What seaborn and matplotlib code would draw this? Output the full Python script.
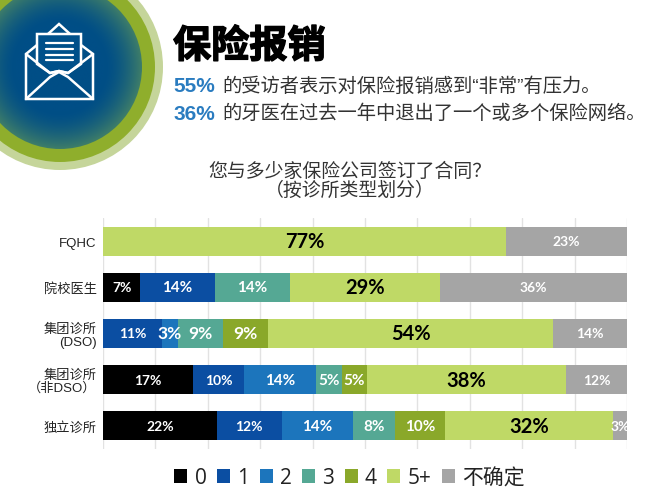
import matplotlib
matplotlib.use("Agg")
import matplotlib.pyplot as plt
import matplotlib.patheffects as pe
from matplotlib.patches import Circle, Polygon
import numpy as np
import pandas as pd
import seaborn as sns

categories = ["FQHC", "院校医生", "集团诊所\n(DSO)", "集团诊所\n（非DSO）", "独立诊所"]
series_names = ["0", "1", "2", "3", "4", "5+", "不确定"]
v_0 = [0, 7.1, 0, 17.2, 21.7]
v_1 = [0, 14.2, 11.3, 9.7, 12.4]
v_2 = [0, 0, 3.0, 13.8, 13.6]
v_3 = [0, 14.3, 8.6, 4.9, 8.0]
v_4 = [0, 0, 8.6, 4.7, 9.6]
v_5 = [76.9, 28.7, 54.4, 38.0, 32.1]
v_unsure = [23.1, 35.7, 14.2, 11.8, 2.8]
colors = ["#000000", "#0b4ea2", "#1c75bc", "#55a894", "#8aa82a", "#bfd966", "#a5a5a5"]

CJK = ["Liberation Sans", "Noto Sans CJK SC", "DejaVu Sans"]
W, H = 660, 502

sns.set_theme(style="white")
plt.rcParams["font.family"] = CJK

fig = plt.figure(figsize=(W / 100, H / 100), dpi=100)

# decoration layer in pixel coordinates
bg = fig.add_axes([0, 0, 1, 1])
bg.axis("off")

cx, cy = 60, 68
bg.add_patch(Circle((cx, cy), 103, color="#c5d59a", lw=0))
bg.add_patch(Circle((cx, cy), 95, color="#8fae2c", lw=0))
yy, xx = np.mgrid[-83:83:300j, -83:83:300j]
rr = np.hypot(xx, yy) / 82
grad = np.clip((rr - 0.55) / 0.45, 0, 1) ** 1.6
c_in, c_out = np.array([0, 78, 134]), np.array([62, 125, 105])
img = (c_in + (c_out - c_in) * grad[..., None]) / 255
im = bg.imshow(img, extent=(cx - 83, cx + 83, cy + 83, cy - 83), zorder=2, aspect="auto")
im.set_clip_path(Circle((cx, cy), 82, transform=bg.transData))
bg.set_xlim(0, W)
bg.set_ylim(H, 0)

# envelope icon
ic = dict(fill=False, ec="white", lw=1.8, zorder=3, joinstyle="miter")
bg.add_patch(Polygon([(26, 55), (37, 46), (48, 35), (59, 25), (70, 35), (81, 46), (93, 55),
                      (93, 100), (26, 100)], **ic))
bg.add_patch(Polygon([(37, 35), (81, 35), (81, 65), (68, 74), (59, 72), (50, 74), (37, 65)],
                     fc="#00508a", ec="white", lw=1.8, zorder=3))
for ly in [44, 50, 56, 61]:
    bg.plot([46, 73], [ly, ly], color="white", lw=1.6, zorder=4)
bg.plot([26, 50, 59, 68, 93], [55, 74, 72, 74, 55], color="white", lw=1.8, zorder=4)
bg.plot([26, 50, 59, 68, 93], [100, 78, 73, 78, 100], color="white", lw=1.8, zorder=4)

# headline text
bg.text(173, 47, "保险报销", fontsize=27.5, fontweight="bold", color="black", va="center",
        family=["Noto Sans CJK SC"],
        path_effects=[pe.withStroke(linewidth=1.0, foreground="black")])
bg.text(173, 87, "55%", fontsize=15, fontweight="bold", color="#2a7cc0", va="center")
bg.text(222, 87, "的受访者表示对保险报销感到“非常”有压力。", fontsize=13.9, color="#333333", va="center")
bg.text(173, 114, "36%", fontsize=15, fontweight="bold", color="#2a7cc0", va="center")
bg.text(222, 114, "的牙医在过去一年中退出了一个或多个保险网络。", fontsize=13.9, color="#333333", va="center")
bg.text(350, 171, "您与多少家保险公司签订了合同？", fontsize=13.6, color="#333333", ha="center", va="center",
        family=["Noto Sans CJK SC"])
bg.text(350, 190, "（按诊所类型划分）", fontsize=13.6, color="#333333", ha="center", va="center",
        family=["Noto Sans CJK SC"])

# chart
ax = fig.add_axes([103 / W, 1 - 450 / H, 524 / W, 231 / H])
ax.patch.set_alpha(0)

df = pd.DataFrame({"cat": categories, "0": v_0, "1": v_1, "2": v_2, "3": v_3, "4": v_4,
                   "5+": v_5, "不确定": v_unsure})

small_labels = {("0", 1), ("0", 3), ("0", 4), ("1", 2), ("1", 3), ("1", 4)}
big_labels = {("2", 2), ("3", 2), ("4", 2)}

left = np.zeros(len(categories))
for name, col in zip(series_names, colors):
    sns.barplot(data=df, y="cat", x=name, order=categories, color=col, left=left, width=0.63,
                saturation=1, ax=ax, label=name, linewidth=0, zorder=3)
    labels = [f"{v:.0f}%" if v > 0 else "" for v in df[name]]
    if name == "5+":
        lab_kw = dict(color="black", fontsize=14.5)
    elif name == "不确定":
        lab_kw = dict(color="white", fontsize=10)
    else:
        lab_kw = dict(color="white", fontsize=11)
    texts = ax.bar_label(ax.containers[-1], labels=labels, label_type="center", fontweight="bold",
                         family=["Lato", "DejaVu Sans"], zorder=5, **lab_kw)
    for i, t in enumerate(texts):
        if (name, i) in small_labels:
            t.set_fontsize(10)
        elif (name, i) in big_labels:
            t.set_fontsize(12.5)
    left = left + df[name].to_numpy()

ax.set_xlim(0, 100)
ax.set_ylim(4.5, -0.5)
ax.set_xticks(np.arange(0, 101, 10))
ax.tick_params(axis="x", labelbottom=False, length=0)
ax.xaxis.grid(True, color="#e2e2e2", lw=1)
ax.yaxis.grid(False)
ax.set_axisbelow(True)
ax.set_xlabel("")
ax.set_ylabel("")
sns.despine(ax=ax, left=True, bottom=True)
ax.tick_params(axis="y", length=0, pad=4.5)
for t in ax.get_yticklabels():
    t.set_fontsize(9.5)
    t.set_color("#222222")
    t.set_multialignment("right")
    t.set_linespacing(1.05)

handles, names = ax.get_legend_handles_labels()
leg = ax.legend(handles, names, ncol=7, frameon=False, loc="center",
                bbox_to_anchor=(349.5 / W, 1 - 479 / H), bbox_transform=fig.transFigure,
                fontsize=15, handlelength=0.62, handleheight=0.62,
                handletextpad=0.35, columnspacing=0.5, borderpad=0)
for t in leg.get_texts():
    t.set_color("#222222")
    t.set_family(["Open Sans", "Noto Sans CJK SC"])

fig.savefig("out.png", dpi=100)
